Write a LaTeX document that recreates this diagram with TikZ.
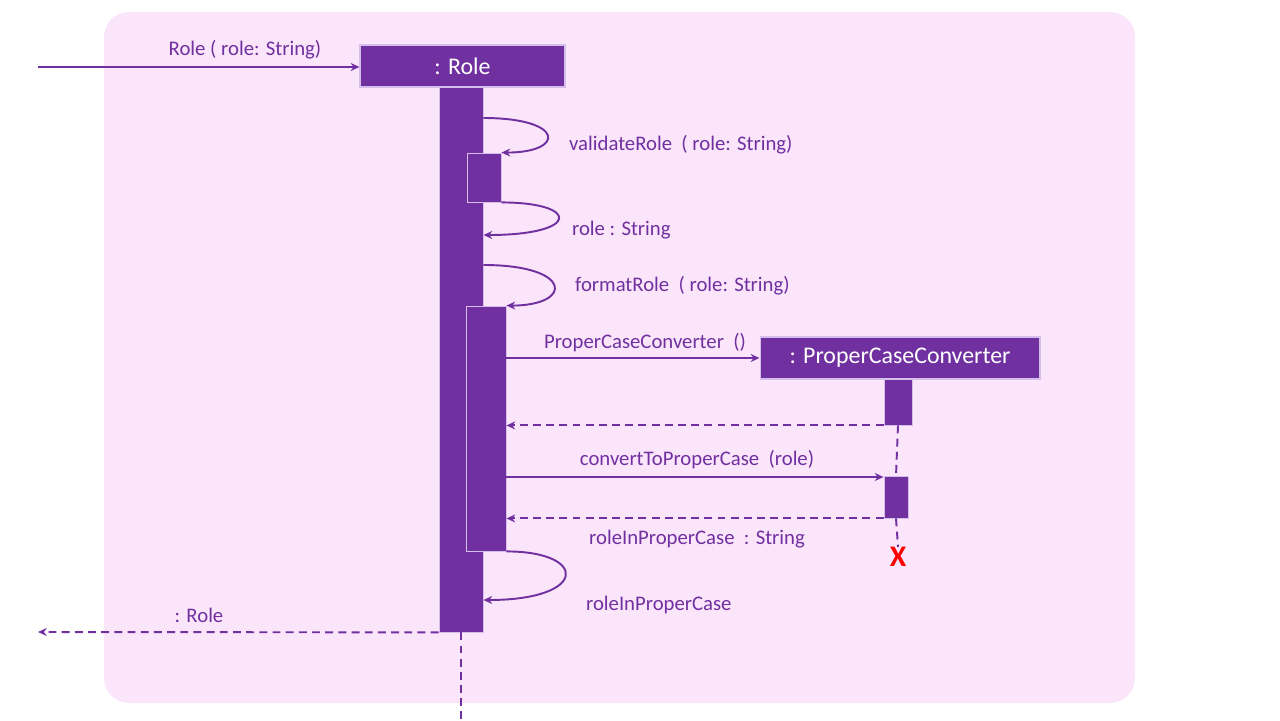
\documentclass[tikz,border=0pt]{standalone}
\usepackage{fontspec}
\setmainfont{Carlito}
\usepackage{tikz}
\usetikzlibrary{arrows.meta}
\definecolor{umlpurple}{RGB}{112,48,160}
\definecolor{umledge}{RGB}{214,190,236}
\definecolor{framepink}{RGB}{251,229,251}
\tikzstyle{frame} = [fill=framepink, rounded corners=0.5cm]
\tikzstyle{obj} = [fill=umlpurple, draw=umledge, line width=0.6pt, inner sep=0pt, text=white, font=\fontsize{13.6}{16}\selectfont]
\tikzstyle{bar} = [fill=umlpurple, draw=umledge, line width=0.5pt, inner sep=0pt]
\tikzstyle{lbl} = [text=umlpurple, inner sep=1pt, yshift=-0.04cm, font=\fontsize{11.8}{14}\selectfont]
\tikzstyle{call} = [draw=umlpurple, line width=1.1pt, -{Stealth[length=5pt,width=4.5pt]}]
\tikzstyle{ret} = [call, dashed, dash pattern=on 4.5pt off 3pt]
\tikzstyle{life} = [draw=umlpurple, line width=1.1pt, dashed, dash pattern=on 4.5pt off 3pt]

\begin{document}
\begin{tikzpicture}[x=0.02cm, y=-0.02cm]
			\useasboundingbox (0,0) rectangle (1280,720);
			\fill[frame] (104,12) rectangle (1135,703);
			% : Role
			\node[obj, minimum width=4.1cm, minimum height=0.84cm] (role) at (462.5,66) {: Role};
			\node[bar, minimum width=0.88cm, minimum height=10.9cm] (act) at (461,359.5) {};
			\node[bar, minimum width=0.68cm, minimum height=0.98cm] (val) at (484,177.5) {};
			\node[bar, minimum width=0.8cm, minimum height=4.9cm] (fmt) at (486,428.5) {};
			% : ProperCaseConverter
			\node[obj, minimum width=5.6cm, minimum height=0.84cm] (pcc) at (900,358) {: ProperCaseConverter};
			\node[bar, minimum width=0.56cm, minimum height=0.92cm] (pact) at (898,402) {};
			\node[bar, minimum width=0.48cm, minimum height=0.84cm] (pconv) at (896,497) {};
			\node[text=red, inner sep=0pt, font=\fontsize{17}{19}\bfseries\selectfont] (kill) at (898,557) {X};
			\coordinate (caller) at (38,67);
			\coordinate (back) at (38,632);
			\coordinate (tail) at (461,720);
			% messages
			\draw[call] (caller) -- (role.west |- caller);
			\node[lbl] at (245,48) {Role ( role: String)};
			\draw[call] (act.east |- 0,118) .. controls +(82,0) and +(64,0) .. (val.north east);
			\node[lbl, anchor=west] at (567,143) {validateRole\ \ ( role: String)};
			\draw[call] (val.south east) .. controls +(79,0) and +(97,0) .. (act.east |- 0,235);
			\node[lbl, anchor=west] at (570,228) {role : String};
			\draw[call] (act.east |- 0,265) .. controls +(90,0) and +(67,0) .. (fmt.north east);
			\node[lbl, anchor=west] at (573,284) {formatRole\ \ ( role: String)};
			\draw[call] (fmt.east |- pcc.west) -- (pcc.west);
			\node[lbl] at (645,341) {ProperCaseConverter\ \ ()};
			\draw[ret] (pact.south west) -- (fmt.east |- pact.south);
			\draw[life] (pact.south) -- (pconv.north);
			\draw[call] (fmt.east |- 0,477) -- (pconv.west |- 0,477);
			\node[lbl] at (697,458) {convertToProperCase\ \ (role)};
			\draw[ret] (pconv.south west) -- (fmt.east |- pconv.south);
			\node[lbl] at (697,537) {roleInProperCase\ \ : String};
			\draw[life] (pconv.south) -- (kill.north);
			\draw[call] (fmt.south east) .. controls +(82,0) and +(105,0) .. (act.east |- 0,600);
			\node[lbl, anchor=west] at (584,603) {roleInProperCase};
			\draw[ret] (act.south west) -- (back);
			\node[lbl] at (199,613) {: Role};
			\draw[life] (act.south) -- (tail);
		\end{tikzpicture}
\end{document}
